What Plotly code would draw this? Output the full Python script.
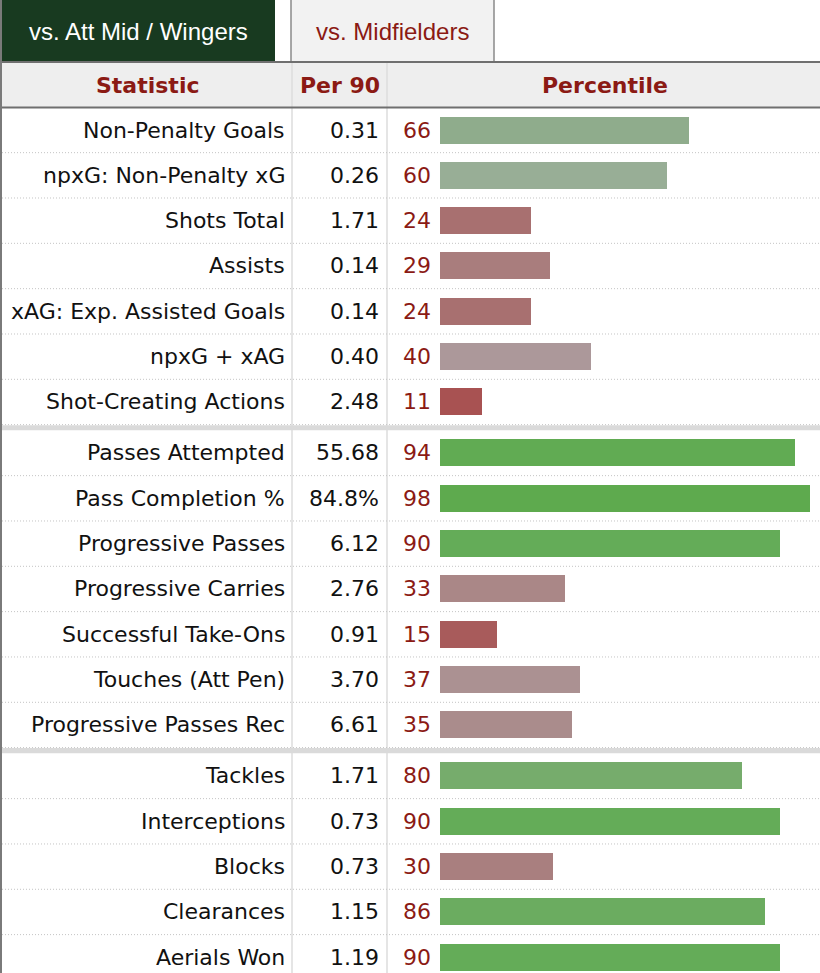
import plotly.graph_objects as go

# ---------------- data ----------------
stats = [
    "Non-Penalty Goals", "npxG: Non-Penalty xG", "Shots Total", "Assists",
    "xAG: Exp. Assisted Goals", "npxG + xAG", "Shot-Creating Actions",
    "Passes Attempted", "Pass Completion %", "Progressive Passes",
    "Progressive Carries", "Successful Take-Ons", "Touches (Att Pen)",
    "Progressive Passes Rec",
    "Tackles", "Interceptions", "Blocks", "Clearances", "Aerials Won",
]
per90 = [
    "0.31", "0.26", "1.71", "0.14", "0.14", "0.40", "2.48",
    "55.68", "84.8%", "6.12", "2.76", "0.91", "3.70", "6.61",
    "1.71", "0.73", "0.73", "1.15", "1.19",
]
percentiles = [66, 60, 24, 29, 24, 40, 11,
               94, 98, 90, 33, 15, 37, 35,
               80, 90, 30, 86, 90]
group_sizes = [7, 7, 5]
tabs = ["vs. Att Mid / Wingers", "vs. Midfielders"]
headers = ["Statistic", "Per 90", "Percentile"]

# ---------------- layout constants ----------------
W, H = 820, 973
ROW_H = 45.33
GROUP_GAP = 5.67
FIRST_Y = 130
DARK_RED = "#8b1a14"
FONT = "DejaVu Sans, Verdana, sans-serif"
FS = 22


def px(x):
    return x / W


# colour scale for percentile bars (low = red, mid = grey, high = green)
stops = [
    (0, (165, 62, 62)), (11, (168, 82, 82)), (24, (168, 112, 112)),
    (35, (170, 140, 140)), (40, (172, 152, 154)), (50, (166, 164, 160)),
    (60, (152, 174, 150)), (66, (143, 172, 140)), (80, (118, 172, 108)),
    (90, (100, 172, 88)), (100, (92, 170, 75)),
]


def pct_color(p):
    for (a, ca), (b, cb) in zip(stops[:-1], stops[1:]):
        if a <= p <= b:
            t = (p - a) / (b - a) if b > a else 0
            c = [round(ca[k] + (cb[k] - ca[k]) * t) for k in range(3)]
            return "rgb(%d,%d,%d)" % tuple(c)
    return "rgb(92,170,75)"


# row y-centres (pixels from top)
row_y, row_group = [], []
idx = 0
for g, n in enumerate(group_sizes):
    for _ in range(n):
        row_y.append(FIRST_Y + idx * ROW_H + g * GROUP_GAP)
        row_group.append(g)
        idx += 1

fig = go.Figure()
fig.add_trace(go.Bar(
    x=percentiles, y=row_y, orientation="h", width=27,
    marker=dict(color=[pct_color(p) for p in percentiles], line=dict(width=0)),
    hoverinfo="skip",
))

shapes = []
annotations = []

# tabs
shapes.append(dict(type="rect", xref="paper", yref="y", x0=px(2), x1=px(275), y0=0, y1=62,
                   fillcolor="#183a20", line=dict(width=0), layer="below"))
shapes.append(dict(type="rect", xref="paper", yref="y", x0=px(291), x1=px(494), y0=-2, y1=62,
                   fillcolor="#f2f2f2", line=dict(color="#8a8a8a", width=1.5), layer="below"))
annotations.append(dict(xref="paper", yref="y", x=px(138), y=31, text=tabs[0], showarrow=False,
                        font=dict(family="Liberation Sans, Arial, sans-serif", size=24, color="white"),
                        xanchor="center", yanchor="middle"))
annotations.append(dict(xref="paper", yref="y", x=px(392), y=31, text=tabs[1], showarrow=False,
                        font=dict(family="Liberation Sans, Arial, sans-serif", size=24, color=DARK_RED),
                        xanchor="center", yanchor="middle"))

# header background
shapes.append(dict(type="rect", xref="paper", yref="y", x0=0, x1=1, y0=63, y1=107,
                   fillcolor="#eeeeee", line=dict(width=0), layer="below"))
# column dividers
for xc in (292, 387):
    shapes.append(dict(type="line", xref="paper", yref="y", x0=px(xc), x1=px(xc), y0=63, y1=H,
                       line=dict(color="#dddddd", width=1.5), layer="below"))
# header borders
for yb in (62, 107.5):
    shapes.append(dict(type="line", xref="paper", yref="y", x0=0, x1=1, y0=yb, y1=yb,
                       line=dict(color="#6f6f6f", width=2), layer="above"))
# left border
shapes.append(dict(type="line", xref="paper", yref="y", x0=px(1), x1=px(1), y0=0, y1=H,
                   line=dict(color="#7a7a7a", width=2), layer="above"))

for xc, txt in zip((147, 340, 605), headers):
    annotations.append(dict(xref="paper", yref="y", x=px(xc), y=85, text="<b>%s</b>" % txt,
                            showarrow=False, xanchor="center", yanchor="middle",
                            font=dict(family=FONT, size=FS, color=DARK_RED)))

# row separators
for i, y in enumerate(row_y):
    boundary = y + ROW_H / 2
    if boundary > H:
        continue
    shapes.append(dict(type="line", xref="paper", yref="y", x0=px(2), x1=1, y0=boundary, y1=boundary,
                       line=dict(color="#c4c4c4", width=1, dash="1px,2px"), layer="below"))
    last_in_group = (i + 1 < len(row_y)) and row_group[i + 1] != row_group[i]
    if last_in_group:
        shapes.append(dict(type="rect", xref="paper", yref="y", x0=px(2), x1=1,
                           y0=boundary + 0.5, y1=boundary + GROUP_GAP,
                           fillcolor="#dadada", line=dict(width=0), layer="above"))

# row texts
for s, v, p, y in zip(stats, per90, percentiles, row_y):
    annotations.append(dict(xref="paper", yref="y", x=px(287), y=y, text=s, showarrow=False,
                            xanchor="right", yanchor="middle",
                            font=dict(family=FONT, size=FS, color="#111111")))
    annotations.append(dict(xref="paper", yref="y", x=px(381), y=y, text=v, showarrow=False,
                            xanchor="right", yanchor="middle",
                            font=dict(family=FONT, size=FS, color="#111111")))
    annotations.append(dict(xref="paper", yref="y", x=px(433), y=y, text=str(p), showarrow=False,
                            xanchor="right", yanchor="middle",
                            font=dict(family=FONT, size=FS, color=DARK_RED)))

fig.update_layout(
    width=W, height=H,
    margin=dict(l=0, r=0, t=0, b=0),
    paper_bgcolor="white", plot_bgcolor="rgba(0,0,0,0)",
    showlegend=False,
    bargap=0,
    xaxis=dict(domain=[px(440), px(440 + 100 * 3.776)], range=[0, 100], visible=False, fixedrange=True),
    yaxis=dict(domain=[0, 1], range=[H, 0], visible=False, fixedrange=True),
    shapes=shapes,
    annotations=annotations,
)

fig.write_html("out.html", config={"displayModeBar": False},
               post_script="document.body.style.margin='0';document.body.style.overflow='hidden';")
